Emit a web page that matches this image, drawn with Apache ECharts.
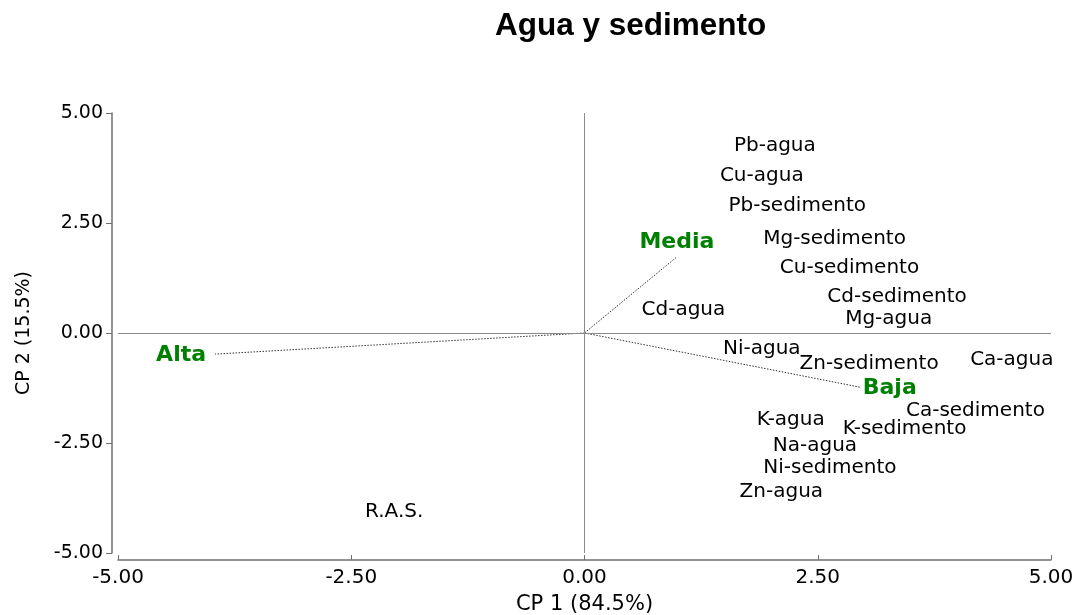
<!DOCTYPE html>
<html>
<head>
<meta charset="utf-8">
<script src="https://cdn.jsdelivr.net/npm/echarts@6/dist/echarts.min.js"></script>
<style>html,body{margin:0;padding:0;background:#fff}#c{width:1078px;height:615px}</style>
</head>
<body>
<div id="c"></div>
<script>
// Variable labels (positions on the biplot)
const varNames = ["Pb-agua","Cu-agua","Pb-sedimento","Mg-sedimento","Cu-sedimento","Cd-sedimento","Mg-agua","Cd-agua","Ni-agua","Zn-sedimento","Ca-agua","Ca-sedimento","K-agua","K-sedimento","Na-agua","Ni-sedimento","Zn-agua","R.A.S."];
const varCP1 = [2.04,1.90,2.28,2.68,2.84,3.35,3.26,1.06,1.90,3.05,4.58,4.19,2.21,3.43,2.47,2.63,2.11,-2.04];
const varCP2 = [4.30,3.61,2.94,2.18,1.52,0.87,0.36,0.57,-0.32,-0.66,-0.57,-1.73,-1.93,-2.14,-2.52,-3.02,-3.57,-4.02];
// Group vectors (from origin)
const grpNames = ["Media","Alta","Baja"];
const grpCP1 = [0.99,-3.96,2.95];
const grpCP2 = [1.73,-0.48,-1.23];
const tickLabels = ["-5.00","-2.50","0.00","2.50","5.00"];

const chart = echarts.init(document.getElementById('c'));
const F = "DejaVu Sans";
const grpLabelPos = {Media:{position:'top',distance:4},Alta:{position:'left',distance:9,offset:[0,1]},Baja:{position:'right',distance:3,offset:[0,1]}};

const series = [];
series.push({
  type:'scatter', symbolSize:0, silent:true, itemStyle:{opacity:1},
  data: varNames.map((n,i)=>({value:[varCP1[i],varCP2[i]], name:n})),
  label:{show:true, position:'inside', offset:[0,2], formatter:p=>p.name, color:'#000', fontFamily:F, fontSize:20},
  markLine:{silent:true, symbol:'none', label:{show:false}, lineStyle:{color:'#8a8a8a', width:1, type:'solid'},
    data:[[{coord:[-5,0]},{coord:[5,0]}],[{coord:[0,-5]},{coord:[0,5]}]]},
  z:3
});
grpNames.forEach((n,i)=>{
  series.push({
    type:'line', silent:true, symbol:'none', data:[[0,0],[grpCP1[i],grpCP2[i]]],
    lineStyle:{color:'#333', width:1, type:[1.5,1.5]}, z:2
  });
  series.push({
    type:'scatter', symbolSize:0, silent:true, itemStyle:{opacity:1},
    data:[{value:[grpCP1[i],grpCP2[i]], name:n}],
    label:Object.assign({show:true, formatter:p=>p.name, color:'#008000', fontFamily:F, fontWeight:'bold', fontSize:22}, grpLabelPos[n]),
    z:4
  });
});

chart.setOption({
  animation:false,
  backgroundColor:'#fff',
  title:{text:'Agua y sedimento', left:490, top:5, textStyle:{fontFamily:'Liberation Sans', fontWeight:'bold', fontSize:31.5, color:'#000'}},
  grid:{left:118, right:27, top:113, bottom:62, outerBoundsMode:'none', containLabel:false},
  xAxis:{type:'value', min:-5, max:5, interval:2.5, offset:7,
    name:'CP 1 (84.5%)', nameLocation:'middle', nameGap:34, nameTextStyle:{fontFamily:F, fontSize:21, color:'#000'},
    axisLine:{show:true, onZero:false, lineStyle:{color:'#707070', width:1.5}},
    axisTick:{show:true, inside:true, length:5, lineStyle:{color:'#707070'}},
    axisLabel:{fontFamily:F, fontSize:20, color:'#000', margin:8, formatter:v=>tickLabels[Math.round((v+5)/2.5)]},
    splitLine:{show:false}},
  yAxis:{type:'value', min:-5, max:5, interval:2.5, offset:6,
    name:'CP 2 (15.5%)', nameLocation:'middle', nameGap:78, nameRotate:90, nameTextStyle:{fontFamily:F, fontSize:19, color:'#000'},
    axisLine:{show:true, onZero:false, lineStyle:{color:'#707070', width:1.5}},
    axisTick:{show:true, length:6, lineStyle:{color:'#707070'}},
    axisLabel:{fontFamily:F, fontSize:19, color:'#000', margin:9, formatter:v=>tickLabels[Math.round((v+5)/2.5)]},
    splitLine:{show:false}},
  series: series
});
</script>
</body>
</html>
